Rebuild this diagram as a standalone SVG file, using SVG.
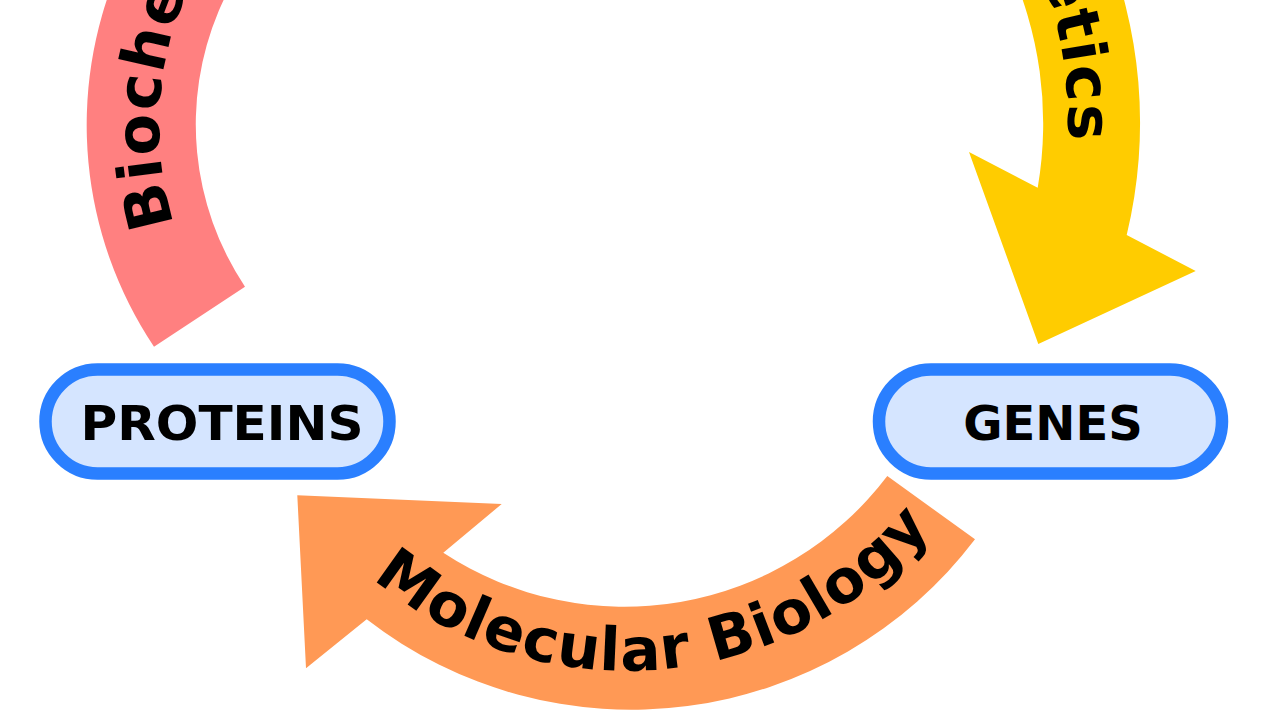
<svg xmlns="http://www.w3.org/2000/svg" width="1280" height="720" viewBox="0 0 1280 720">
  <style>
    .arcText { font-family: "DejaVu Sans", "Liberation Sans", sans-serif; font-weight: bold; fill: #000000; }
    .nodeBox { fill: #d5e5ff; stroke: #2a7fff; stroke-width: 12.5; }
    .nodeText { font-family: "DejaVu Sans", "Liberation Sans", sans-serif; font-weight: bold; font-size: 48px; fill: #000000; text-anchor: middle; }
  </style>
  <defs>
    <path id="pinkTextPath" d="M 174.4,224.1 A 326 326 0 0 1 428.4,-196"/>
    <path id="yellowTextPath" d="M 799.5,-261.4 A 408 408 0 0 1 1067.6,141.8"/>
    <path id="orangeTextPath" d="M 285.4,475 A 396 396 0 0 0 968.6,475"/>
  </defs>
  <rect width="1280" height="720" fill="#ffffff"/>
  <g id="connectors">
    <g id="biochemistry">
      <path d="M 154,346.7 L 245,286.7 A 292 292 0 0 1 434.3,-162.6 L 415.7,-267.9 A 399 399 0 0 0 154,346.7 Z" fill="#ff8080"/>
      <text class="arcText" font-size="61" letter-spacing="1.5"><textPath href="#pinkTextPath">Biochemistry</textPath></text>
    </g>
    <g id="genetics">
      <path d="M 850.5,-208 A 381 381 0 0 1 1037.7,187.7 L 969,152 L 1038.3,344 L 1195.7,271 L 1126.7,235 A 479 479 0 0 0 899.5,-292.8 Z" fill="#ffcc00"/>
      <text class="arcText" font-size="61" letter-spacing="1.5" text-anchor="end"><textPath href="#yellowTextPath" startOffset="100%">Genetics</textPath></text>
    </g>
    <g id="molecular-biology">
      <path d="M 887.3,476 A 330 330 0 0 1 443.3,552.7 L 501.7,504 L 297.3,495.3 L 306,668.3 L 366.7,619.3 A 432 432 0 0 0 975,539.3 Z" fill="#ff9955"/>
      <text class="arcText" font-size="60" letter-spacing="1.2" text-anchor="middle"><textPath href="#orangeTextPath" startOffset="448">Molecular Biology</textPath></text>
    </g>
  </g>
  <g id="node-proteins">
    <rect class="nodeBox" x="45.5" y="369.5" width="344" height="104" rx="52" ry="52"/>
    <text class="nodeText" x="222" y="439.5" textLength="283" lengthAdjust="spacingAndGlyphs">PROTEINS</text>
  </g>
  <g id="node-genes">
    <rect class="nodeBox" x="879" y="369.5" width="343" height="104" rx="52" ry="52"/>
    <text class="nodeText" x="1053" y="439.5">GENES</text>
  </g>
</svg>
